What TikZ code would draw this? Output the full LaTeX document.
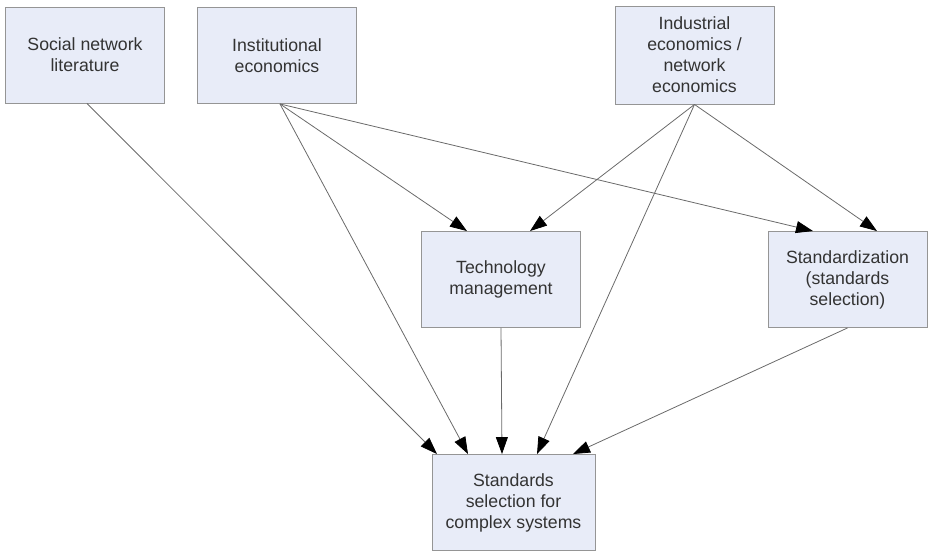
\documentclass[tikz,border=0pt]{standalone}
\usepackage{fontspec}
\setmainfont{Liberation Sans}
\usetikzlibrary{arrows.meta}
\definecolor{boxfill}{HTML}{E8ECF8}
\definecolor{boxline}{HTML}{959595}
\definecolor{txt}{HTML}{333333}
\definecolor{conn}{HTML}{6A6A6A}
\begin{document}
\begin{tikzpicture}[x=1pt,y=-1pt,
  box/.style={draw=boxline,fill=boxfill,line width=0.9pt,rectangle,
    minimum width=159pt,minimum height=96pt,inner sep=2pt,align=center,
    text=txt,font=\fontsize{17.7}{21}\selectfont},
  conn/.style={draw=conn,line width=0.8pt,
    -{Triangle[length=17pt,width=12pt,fill=black,color=black]}}]
\useasboundingbox (0,0) rectangle (932,552);
\node[box] (soc) at (85,55) {Social network\\literature};
\node[box] (inst) at (277,55.5) {Institutional\\economics};
\node[box,minimum height=98pt] (ind) at (694.5,55) {Industrial\\economics /\\network\\economics};
\node[box] (tech) at (501,279.5) {Technology\\management};
\node[box] (stdz) at (847.5,279.5) {Standardization\\(standards\\selection)};
\node[box,minimum width=163pt] (bot) at (513.5,502.5) {Standards\\selection for\\complex systems};
\draw[conn] ([xshift=2pt]soc.south) -- ([xshift=-76.5pt]bot.north);
\draw[conn] ([xshift=3pt]inst.south) -- ([xshift=-45.5pt]bot.north);
\draw[conn] ([xshift=3pt]inst.south) -- ([xshift=-34pt]tech.north);
\draw[conn] ([xshift=3pt]inst.south) -- ([xshift=-34.5pt]stdz.north);
\draw[conn] (ind.south) -- ([xshift=29pt]tech.north);
\draw[conn] (ind.south) -- ([xshift=23.5pt]bot.north);
\draw[conn] (ind.south) -- ([xshift=29.5pt]stdz.north);
\draw[conn] (tech.south) -- ([xshift=-11.5pt]bot.north);
\draw[conn] (stdz.south) -- ([xshift=59.5pt]bot.north);
\end{tikzpicture}
\end{document}
